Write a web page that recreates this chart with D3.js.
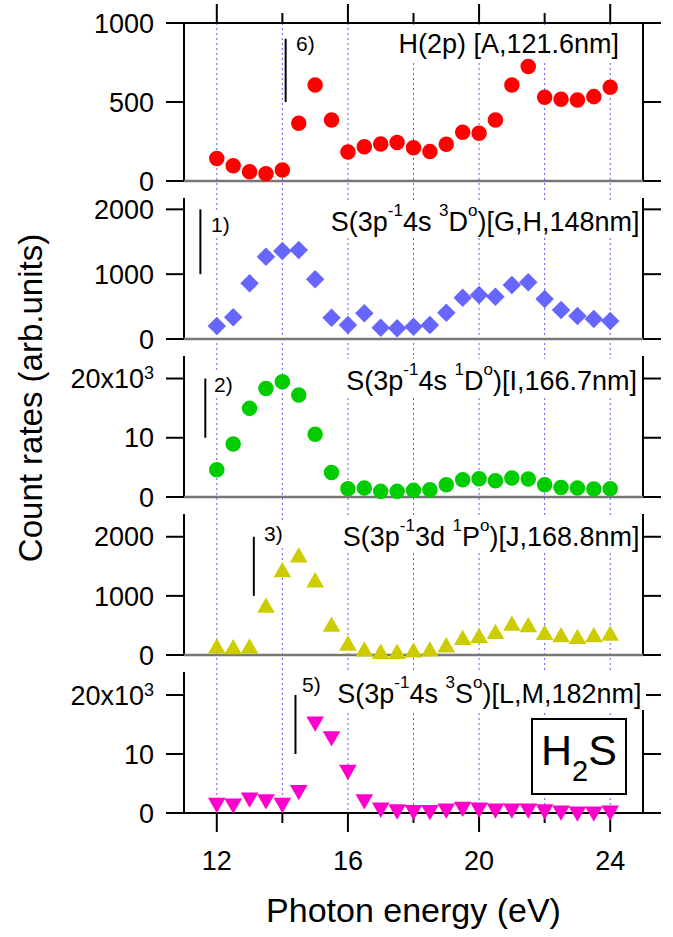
<!DOCTYPE html>
<html>
<head>
<meta charset="utf-8">
<script src="https://cdn.jsdelivr.net/npm/d3@7"></script>
<style>
  body { margin: 0; background: #fff; }
  text { font-family: "Liberation Sans", Arial, Helvetica, sans-serif; fill: #000; }
</style>
</head>
<body>
<script>
// photon energies (eV)
const energy = [12, 12.5, 13, 13.5, 14, 14.5, 15, 15.5, 16, 16.5, 17, 17.5, 18, 18.5, 19, 19.5, 20, 20.5, 21, 21.5, 22, 22.5, 23, 23.5, 24];

// count rates
const hRates = [143, 97, 59, 46, 70, 365, 608, 386, 184, 217, 234, 243, 211, 186, 232, 308, 302, 386, 608, 724, 530, 517, 512, 534, 593];
const s3DRates = [200, 334, 859, 1270, 1357, 1373, 920, 329, 216, 396, 175, 165, 190, 216, 406, 638, 679, 653, 833, 874, 617, 447, 355, 308, 278];
const s1DRates = [4590, 8960, 14960, 18320, 19440, 17200, 10590, 4150, 1400, 1510, 950, 950, 1120, 1230, 2070, 2910, 3080, 2750, 3190, 3020, 2070, 1620, 1510, 1340, 1400];
const s1PRates = [110, 100, 110, 800, 1400, 1650, 1230, 480, 160, 60, 20, 20, 45, 60, 130, 255, 290, 355, 495, 470, 340, 300, 272, 300, 328];
const s3SRates = [1700, 1600, 2600, 2300, 1700, 3900, 15500, 13000, 7300, 2300, 900, 600, 500, 500, 750, 1050, 900, 750, 750, 750, 600, 400, 250, 250, 400];

// axis ticks
const xTicks = [12, 16, 20, 24];
const xMinorTicks = [14, 18, 22];
const yTicksSmall = [0, 500, 1000];
const yTicks2k = [0, 1000, 2000];
const yTicks20k = [0, 10000, 20000];
const yLabelsSmall = [["0"], ["500"], ["1000"]];
const yLabels2k = [["0"], ["1000"], ["2000"]];
const yLabels20k = [["0"], ["10"], ["20x10", "3"]];

// threshold markers
const thrEnergy = [14.1, 11.5, 11.65, 13.13, 14.4];
const thrLow = [500, 1000, 10000, 1000, 10000];
const thrHigh = [900, 2000, 20000, 2000, 20000];
const thrText = ["6)", "1)", "2)", "3)", "5)"];

// panel titles: [text, superscript?]
const titleH = [["H(2p) [A,121.6nm]", 0]];
const title3D = [["S(3p", 0], ["-1", 1], ["4s ", 0], ["3", 1], ["D", 0], ["o", 1], [")[G,H,148nm]", 0]];
const title1D = [["S(3p", 0], ["-1", 1], ["4s ", 0], ["1", 1], ["D", 0], ["o", 1], [")[I,166.7nm]", 0]];
const title1P = [["S(3p", 0], ["-1", 1], ["3d ", 0], ["1", 1], ["P", 0], ["o", 1], [")[J,168.8nm]", 0]];
const title3S = [["S(3p", 0], ["-1", 1], ["4s ", 0], ["3", 1], ["S", 0], ["o", 1], [")[L,M,182nm]", 0]];

const W = 673, H = 937;
const svg = d3.select("body").append("svg").attr("width", W).attr("height", H);

const x = d3.scaleLinear().domain([11, 25]).range([184, 643]);
const L = x.range()[0], R = x.range()[1];
const TICK = 18;

const panels = [
  { values: hRates, yMax: 1000, top: 23, bottom: 181, ticks: yTicksSmall, tickText: yLabelsSmall,
    color: "#ff0000", shape: "circle", title: titleH, titleX: 619, titleY: 53, thrX: 296, thrY: 51 },
  { values: s3DRates, yMax: 2175, top: 198, bottom: 339, ticks: yTicks2k, tickText: yLabels2k,
    color: "#6666ff", shape: "diamond", title: title3D, titleX: 639.5, titleY: 231, thrX: 211, thrY: 232 },
  { values: s1DRates, yMax: 23800, top: 356, bottom: 497, ticks: yTicks20k, tickText: yLabels20k,
    color: "#00cc00", shape: "circle", title: title1D, titleX: 637, titleY: 390, thrX: 214, thrY: 392 },
  { values: s1PRates, yMax: 2385, top: 514, bottom: 655, ticks: yTicks2k, tickText: yLabels2k,
    color: "#cccc00", shape: "up", title: title1P, titleX: 639.5, titleY: 546, thrX: 264, thrY: 541 },
  { values: s3SRates, yMax: 23900, top: 672, bottom: 813, ticks: yTicks20k, tickText: yLabels20k,
    color: "#ff00cc", shape: "down", title: title3S, titleX: 641.5, titleY: 703, thrX: 302, thrY: 692, bgRight: 646 }
];
panels.forEach(p => {
  p.y = d3.scaleLinear().domain([0, p.yMax]).range([p.bottom, p.top]);
});

const topY = panels[0].top, botY = panels[4].bottom;

// vertical dotted grid
svg.append("g").selectAll("line")
  .data(xTicks.concat(xMinorTicks))
  .enter().append("line")
  .attr("x1", d => x(d)).attr("x2", d => x(d))
  .attr("y1", topY).attr("y2", botY)
  .attr("stroke", "#5c5cff").attr("stroke-width", 1).attr("stroke-dasharray", "2,3");

// helper: text with superscript parts
function richText(g, parts, size, supSize, supShift) {
  const t = g.append("text").attr("font-size", size);
  let up = false;
  parts.forEach(([s, sup]) => {
    const ts = t.append("tspan").text(s);
    if (sup && !up) { ts.attr("dy", -supShift).attr("font-size", supSize); up = true; }
    else if (sup) { ts.attr("font-size", supSize); }
    else if (!sup && up) { ts.attr("dy", supShift); up = false; }
  });
  return t;
}

function withBg(g, t, padX, padY, right) {
  const b = t.node().getBBox();
  const x1 = right !== undefined ? right : b.x + b.width + padX;
  g.insert("rect", "text")
    .attr("x", b.x - padX).attr("y", b.y - padY)
    .attr("width", x1 - (b.x - padX)).attr("height", b.height + 2 * padY)
    .attr("fill", "#fff");
}

const axesG = svg.append("g");
const annG = svg.append("g");
const markG = svg.append("g");

panels.forEach((p, i) => {
  const g = axesG.append("g");
  // left and right frame
  [L, R].forEach(xx => {
    g.append("line").attr("x1", xx).attr("x2", xx).attr("y1", p.top).attr("y2", p.bottom)
      .attr("stroke", "#000").attr("stroke-width", 2);
  });
  // zero line
  g.append("line").attr("x1", L).attr("x2", R).attr("y1", p.y(0)).attr("y2", p.y(0))
    .attr("stroke", i === 4 ? "#000" : "#777").attr("stroke-width", i === 4 ? 2 : 2.6);
  // y ticks, both sides
  p.ticks.forEach((v, k) => {
    g.append("line").attr("x1", L - TICK).attr("x2", L).attr("y1", p.y(v)).attr("y2", p.y(v))
      .attr("stroke", "#000").attr("stroke-width", 2);
    g.append("line").attr("x1", R).attr("x2", R + TICK).attr("y1", p.y(v)).attr("y2", p.y(v))
      .attr("stroke", "#000").attr("stroke-width", 2);
    const lab = p.tickText[k];
    const t = g.append("text").attr("x", L - 30).attr("y", p.y(v)).attr("dy", "0.36em")
      .attr("text-anchor", "end").attr("font-size", 27);
    t.append("tspan").text(lab[0]);
    if (lab[1]) t.append("tspan").attr("font-size", 18).attr("dy", -9).text(lab[1]);
  });
  // top frame of the first panel
  if (i === 0) {
    g.append("line").attr("x1", L).attr("x2", R).attr("y1", p.top).attr("y2", p.top)
      .attr("stroke", "#000").attr("stroke-width", 2);
  }
});

// top and bottom energy ticks
[[topY, -1], [botY, 1]].forEach(([yy, dir]) => {
  axesG.selectAll(null).data(xTicks).enter().append("line")
    .attr("x1", d => x(d)).attr("x2", d => x(d)).attr("y1", yy).attr("y2", yy + dir * 19)
    .attr("stroke", "#000").attr("stroke-width", 2);
  axesG.selectAll(null).data(xMinorTicks).enter().append("line")
    .attr("x1", d => x(d)).attr("x2", d => x(d)).attr("y1", yy).attr("y2", yy + dir * 10)
    .attr("stroke", "#000").attr("stroke-width", 2);
});
axesG.selectAll(null).data(xTicks).enter().append("text")
  .attr("x", d => x(d)).attr("y", 870).attr("text-anchor", "middle").attr("font-size", 27)
  .text(d => d);

// titles and threshold markers
panels.forEach((p, i) => {
  const g = annG.append("g");
  const t = richText(g, p.title, 27, 17, 15)
    .attr("x", p.titleX).attr("y", p.titleY).attr("text-anchor", "end");
  withBg(g, t, 2, 1, p.bgRight);

  const g2 = annG.append("g");
  const t2 = g2.append("text").attr("x", p.thrX).attr("y", p.thrY).attr("font-size", 21).text(thrText[i]);
  withBg(g2, t2, 1, 0);
  annG.append("line")
    .attr("x1", x(thrEnergy[i])).attr("x2", x(thrEnergy[i]))
    .attr("y1", p.y(thrLow[i])).attr("y2", p.y(thrHigh[i]))
    .attr("stroke", "#000").attr("stroke-width", 2);
});

// markers
const shapes = {
  circle: { sym: d3.symbol(d3.symbolCircle, 189), rot: 0 },
  diamond: { sym: d3.symbol(d3.symbolSquare, 171), rot: 45 },
  up: { sym: d3.symbol(d3.symbolTriangle, 135), rot: 0 },
  down: { sym: d3.symbol(d3.symbolTriangle, 135), rot: 180 }
};
panels.forEach(p => {
  const s = shapes[p.shape];
  markG.append("g").selectAll("path")
    .data(p.values)
    .enter().append("path")
    .attr("d", s.sym())
    .attr("transform", (d, k) => `translate(${x(energy[k])},${p.y(d)}) rotate(${s.rot})`)
    .attr("fill", p.color);
});

// H2S box
const box = svg.append("g");
box.append("rect").attr("x", 532).attr("y", 719).attr("width", 94).attr("height", 75)
  .attr("fill", "#fff").attr("stroke", "#000").attr("stroke-width", 2);
const hs = box.append("text").attr("x", 579).attr("y", 765).attr("text-anchor", "middle").attr("font-size", 43);
hs.append("tspan").text("H");
hs.append("tspan").attr("font-size", 29).attr("dy", 16).text("2");
hs.append("tspan").attr("dy", -16).text("S");

// axis titles
svg.append("text").attr("x", (L + R) / 2).attr("y", 922).attr("text-anchor", "middle")
  .attr("font-size", 34).text("Photon energy (eV)");
svg.append("text").attr("transform", "translate(42,398) rotate(-90)").attr("text-anchor", "middle")
  .attr("font-size", 33).text("Count rates (arb.units)");
</script>
</body>
</html>
